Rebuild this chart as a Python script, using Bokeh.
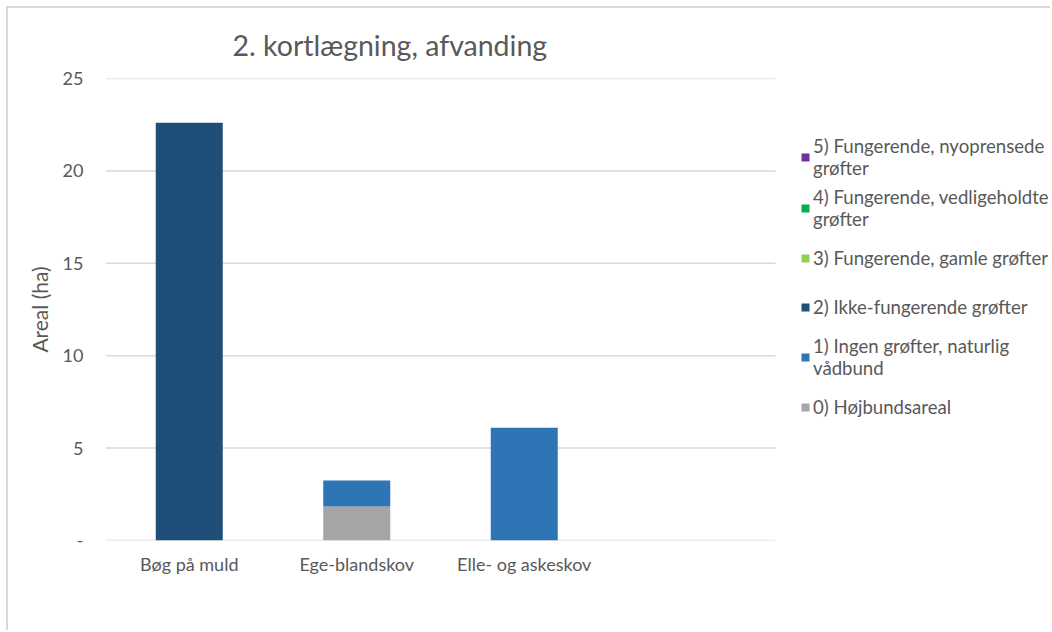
from bokeh.plotting import figure
from bokeh.models import Range1d, FixedTicker, Legend, LegendItem
from bokeh.embed import file_html
from bokeh.resources import INLINE

# ---- data ----
categories = ["Bøg på muld", "Ege-blandskov", "Elle- og askeskov", ""]
series_names = [
    "0) Højbundsareal",
    "1) Ingen grøfter, naturlig\nvådbund",
    "2) Ikke-fungerende grøfter",
    "3) Fungerende, gamle grøfter",
    "4) Fungerende, vedligeholdte\ngrøfter",
    "5) Fungerende, nyoprensede\ngrøfter",
]
hojbund = [0.0, 1.84, 0.0, 0.0]
ingen_grofter = [0.0, 1.41, 6.1, 0.0]
ikke_fungerende = [22.6, 0.0, 0.0, 0.0]
gamle_grofter = [0.0, 0.0, 0.0, 0.0]
vedligeholdte = [0.0, 0.0, 0.0, 0.0]
nyoprensede = [0.0, 0.0, 0.0, 0.0]
colors = ["#A5A5A5", "#2E75B6", "#1F4E79", "#92D050", "#00B050", "#7030A0"]
y_ticks = [0, 5, 10, 15, 20, 25]

n_cat = len(categories)
xpos = [i + 0.5 for i in range(n_cat)]
keys = ["s0", "s1", "s2", "s3", "s4", "s5"]
data = {"x": xpos, "s0": hojbund, "s1": ingen_grofter, "s2": ikke_fungerende,
        "s3": gamle_grofter, "s4": vedligeholdte, "s5": nyoprensede}

FONT = "Lato"
TXT = "#595959"
GRID = "#D9D9D9"

# plot area: categories occupy the left part, legend lives in the remaining space
x_end = n_cat * 947 / 670
p = figure(x_range=Range1d(0, x_end), y_range=Range1d(0, max(y_ticks)),
           width=1044, height=624, output_backend="svg", toolbar_location=None,
           min_border_left=97, min_border_right=0, min_border_top=70, min_border_bottom=92)
p.margin = (6, 0, 0, 6)
p.styles = {"border-top": "2px solid #D9D9D9", "border-left": "2px solid #D9D9D9"}

# gridlines limited to the category area
p.segment(x0=[0] * len(y_ticks), x1=[n_cat] * len(y_ticks), y0=y_ticks, y1=y_ticks,
          line_color=GRID, line_width=1.5)

renderers = p.vbar_stack(keys, x="x", width=0.4, color=colors, source=data, line_color=None)

p.title.text = "2. kortlægning, afvanding"
p.title.text_font = FONT
p.title.text_font_size = "28.5px"
p.title.text_font_style = "normal"
p.title.text_color = TXT
p.title.align = "left"
p.title.offset = 127
p.title.standoff = 34

p.outline_line_color = None
p.xgrid.grid_line_color = None
p.ygrid.grid_line_color = None

p.yaxis.ticker = FixedTicker(ticks=y_ticks)
p.yaxis.major_label_overrides = {0: "-"}
p.yaxis.axis_line_color = None
p.yaxis.major_tick_line_color = None
p.yaxis.minor_tick_line_color = None
p.yaxis.major_label_text_font = FONT
p.yaxis.major_label_text_font_size = "18px"
p.yaxis.major_label_text_color = TXT
p.yaxis.major_label_standoff = 16
p.yaxis.axis_label = "Areal (ha)"
p.yaxis.axis_label_text_font = FONT
p.yaxis.axis_label_text_font_size = "21px"
p.yaxis.axis_label_text_font_style = "normal"
p.yaxis.axis_label_text_color = TXT
p.yaxis.axis_label_standoff = 8

p.xaxis.ticker = FixedTicker(ticks=xpos)
p.xaxis.major_label_overrides = {x: c for x, c in zip(xpos, categories)}
p.xaxis.axis_line_color = None
p.xaxis.major_tick_line_color = None
p.xaxis.minor_tick_line_color = None
p.xaxis.major_label_text_font = FONT
p.xaxis.major_label_text_font_size = "18px"
p.xaxis.major_label_text_color = TXT
p.xaxis.major_label_standoff = 6

items = [LegendItem(label=series_names[i], renderers=[renderers[i]]) for i in reversed(range(6))]
legend = Legend(items=items, location=(695, 112), orientation="vertical",
                glyph_width=10, glyph_height=10, label_standoff=3, spacing=7,
                label_text_font=FONT, label_text_font_size="18.6px", label_text_color=TXT,
                padding=0, margin=0, border_line_color=None, background_fill_alpha=0,
                label_height=42)
p.add_layout(legend, "center")

open("out.html", "w").write(file_html(p, INLINE))
